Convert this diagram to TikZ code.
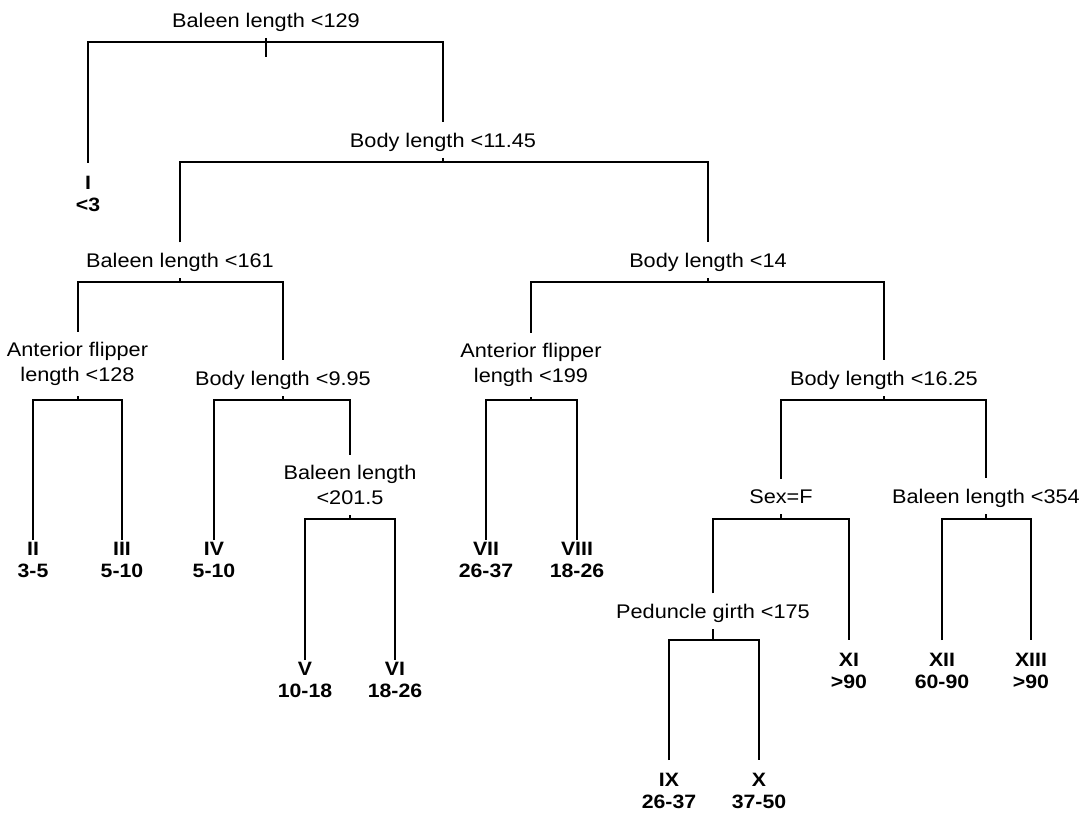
\documentclass[tikz,border=0pt]{standalone}
\usepackage{fontspec}
\setmainfont{Liberation Sans}[FakeStretch=1.1]
\begin{document}
\begin{tikzpicture}[x=0.75pt, y=-0.75pt,
    cond/.style={font=\fontsize{14.8}{18.5}\selectfont, inner sep=0pt, outer ysep=8pt, anchor=south, text depth=0pt},
    condtwo/.style={font=\fontsize{14.8}{18.5}\selectfont, inner sep=0pt, outer ysep=8pt, anchor=south, align=center},
    leaf/.style={font=\fontsize{14.5}{16.5}\selectfont\bfseries, inner sep=0pt, outer ysep=2pt, anchor=north, align=center},
    farleaf/.style={leaf, outer ysep=10pt},
    branch/.style={line width=1.5pt}]
        \useasboundingbox (0,0) rectangle (1083,817);
        % splits
        \node[cond] (s1) at (266,38) {Baleen length <129};
        \node[cond] (s2) at (443,158) {Body length <11.45};
        \node[cond] (s3) at (180,278) {Baleen length <161};
        \node[condtwo] (s4) at (77.5,396) {Anterior flipper\\length <128};
        \node[cond] (s5) at (283,396) {Body length <9.95};
        \node[condtwo] (s6) at (350,515) {Baleen length\\<201.5};
        \node[cond] (s7) at (708,278) {Body length <14};
        \node[condtwo] (s8) at (531,397) {Anterior flipper\\length <199};
        \node[cond] (s9) at (884,396) {Body length <16.25};
        \node[cond] (s10) at (781,514) {Sex=F};
        \node[cond] (s11) at (713,629) {Peduncle girth <175};
        \node[cond] (s12) at (986,514) {Baleen length <354};
        % groups
        \node[farleaf] (g1) at (88,163) {I\\<3};
        \node[leaf] (g2) at (33,540) {II\\3-5};
        \node[leaf] (g3) at (122,540) {III\\5-10};
        \node[leaf] (g4) at (214,540) {IV\\5-10};
        \node[leaf] (g5) at (305,660) {V\\10-18};
        \node[leaf] (g6) at (395,660) {VI\\18-26};
        \node[leaf] (g7) at (486,540) {VII\\26-37};
        \node[leaf] (g8) at (577,540) {VIII\\18-26};
        \node[farleaf] (g9) at (669,760) {IX\\26-37};
        \node[farleaf] (g10) at (759,760) {X\\37-50};
        \node[farleaf] (g11) at (849,640) {XI\\>90};
        \node[farleaf] (g12) at (942,640) {XII\\60-90};
        \node[farleaf] (g13) at (1031,640) {XIII\\>90};
        % bar centres
        \coordinate (j1) at (266,42);
        \coordinate (t1) at (266,57);
        \coordinate (j2) at (443,162);
        \coordinate (j3) at (180,282);
        \coordinate (j4) at (77.5,400);
        \coordinate (j5) at (283,400);
        \coordinate (j6) at (350,519);
        \coordinate (j7) at (708,282);
        \coordinate (j8) at (531,400);
        \coordinate (j9) at (884,400);
        \coordinate (j10) at (781,519);
        \coordinate (j11) at (713,640);
        \coordinate (j12) at (986,519);
        \draw[branch] (g1.north) |- (j1) -| (s2.north);
        \draw[branch] (s3.north) |- (j2) -| (s7.north);
        \draw[branch] (s4.north) |- (j3) -| (s5.north);
        \draw[branch] (g2.north) |- (j4) -| (g3.north);
        \draw[branch] (g4.north) |- (j5) -| (s6.north);
        \draw[branch] (g5.north) |- (j6) -| (g6.north);
        \draw[branch] (s8.north) |- (j7) -| (s9.north);
        \draw[branch] (g7.north) |- (j8) -| (g8.north);
        \draw[branch] (s10.north) |- (j9) -| (s12.north);
        \draw[branch] (s11.north) |- (j10) -| (g11.north);
        \draw[branch] (g9.north) |- (j11) -| (g10.north);
        \draw[branch] (g12.north) |- (j12) -| (g13.north);
        \draw[branch] (s1.south) -- (t1) (s2.south) -- (j2) (s3.south) -- (j3)
          (s4.south) -- (j4) (s5.south) -- (j5) (s6.south) -- (j6)
          (s7.south) -- (j7) (s8.south) -- (j8) (s9.south) -- (j9)
          (s10.south) -- (j10) (s11.south) -- (j11) (s12.south) -- (j12);
      \end{tikzpicture}
\end{document}
